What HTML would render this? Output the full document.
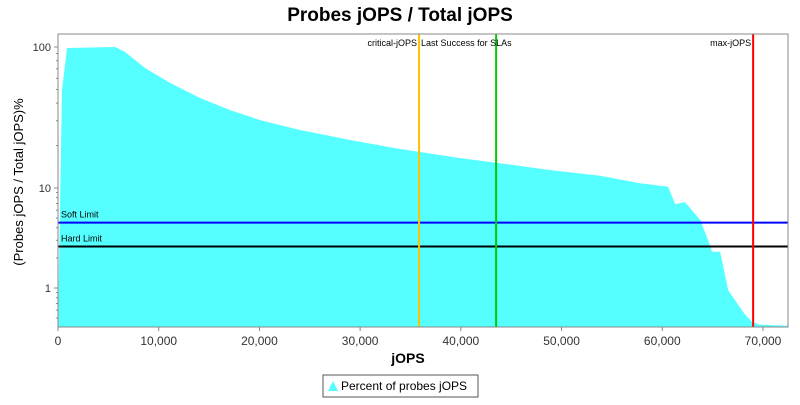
<!DOCTYPE html>
<html><head><meta charset="utf-8"><style>
body{margin:0;background:#fff;font-family:"Liberation Sans",sans-serif}
svg text{font-family:"Liberation Sans",sans-serif}
</style></head><body>
<svg id="chart" width="800" height="400" xmlns="http://www.w3.org/2000/svg">
<rect width="800" height="400" fill="#fff"/>
<text x="400" y="21" text-anchor="middle" font-size="19" font-weight="bold">Probes jOPS / Total jOPS</text>
<g id="plot"></g>
<text x="408" y="363" text-anchor="middle" font-size="14" font-weight="bold">jOPS</text>
<text transform="translate(23,182) rotate(-90)" text-anchor="middle" font-size="13">(Probes jOPS / Total jOPS)%</text>
<g>
<rect x="323" y="375" width="155" height="22" fill="#fff" stroke="#555"/>
<path d="M328 391 L333 381 L338 391 Z" fill="#55ffff"/>
<text x="341" y="390" font-size="12">Percent of probes jOPS</text>
</g>
</svg>
<script>
const xs=[0,400,900,5660,6650,8640,11120,14100,17080,20060,24030,29000,33960,35950,39920,43890,48860,53820,57800,60580,61280,62270,63760,64550,64950,65740,66540,68220,68920,69710,72490];
const ys=[0.42,49.5,98.4,100,92.3,71,55.6,43.5,35.7,30.3,25.8,21.9,18.9,18,16.3,15,13.4,12.2,10.8,10.2,6.9,7.2,4.8,3.0,2.3,2.3,0.95,0.54,0.46,0.43,0.42];
const xTicks=[0,10000,20000,30000,40000,50000,60000,70000];
const yTicks=[1,10,100];
const limits=[{name:"Soft Limit",v:4.5,c:"#0000ff"},{name:"Hard Limit",v:2.6,c:"#000000"}];
const markers=[{name:"critical-jOPS",v:35850,c:"#ffc000"},{name:"Last Success for SLAs",v:43500,c:"#00cc00"},{name:"max-jOPS",v:69020,c:"#ff0000"}];
const L=58,R=788,T=34,B=327;
function X(v){return L+v*705/70000;}
function Y(v){const lg=Math.log10(v);return lg>=1?188-(lg-1)*141:188+(1-lg)*100;}
const NS="http://www.w3.org/2000/svg";
const g=document.getElementById('plot');
function mk(t,a){const e=document.createElementNS(NS,t);for(const k in a)e.setAttribute(k,a[k]);g.appendChild(e);return e;}
let d="M"+X(xs[0])+" "+B;
for(let i=0;i<xs.length;i++)d+=" L"+Math.min(R,X(xs[i])).toFixed(1)+" "+Math.min(B,Y(ys[i])).toFixed(1);
d+=" L"+R+" "+B+" Z";
const area=mk('path',{d:d,fill:'#55ffff'});


limits.forEach(l=>{const y=Y(l.v);
const ln=mk('line',{x1:L,x2:R,y1:y,y2:y,stroke:l.c,'stroke-width':2});


const t=mk('text',{x:L+3,y:y-5,'font-size':9});t.textContent=l.name;

});
markers.forEach((m,i)=>{const x=X(m.v);
const ln=mk('line',{x1:x,x2:x,y1:T,y2:B,stroke:m.c,'stroke-width':2});


const t=mk('text',{y:46,'font-size':9});t.textContent=m.name;
if(i===1){t.setAttribute('x',X(markers[0].v)+2);}else{t.setAttribute('x',x-2);t.setAttribute('text-anchor','end');}

});
const fr=mk('rect',{x:L,y:T,width:R-L,height:B-T,fill:'none',stroke:'#888'});


xTicks.forEach(v=>{const x=X(v);mk('line',{x1:x,x2:x,y1:B,y2:B+4,stroke:'#888'});
const t=mk('text',{x:x,y:B+18,'font-size':12,'text-anchor':'middle',fill:'#333'});t.textContent=v.toLocaleString('en-US');

});
yTicks.forEach(v=>{const y=Y(v);mk('line',{x1:L-4,x2:L,y1:y,y2:y,stroke:'#888'});
const t=mk('text',{x:L-7,y:y+4,'font-size':11,'text-anchor':'end',fill:'#333'});t.textContent=v;


for(let k=2;k<10;k++){const yy=Y(v*k);if(yy>=T&&yy<=B)mk('line',{x1:L-2,x2:L,y1:yy,y2:yy,stroke:'#888'});}});
for(let k=5;k<10;k++){mk('line',{x1:L-2,x2:L,y1:Y(k/10),y2:Y(k/10),stroke:'#888'});}
</script>
</body></html>
